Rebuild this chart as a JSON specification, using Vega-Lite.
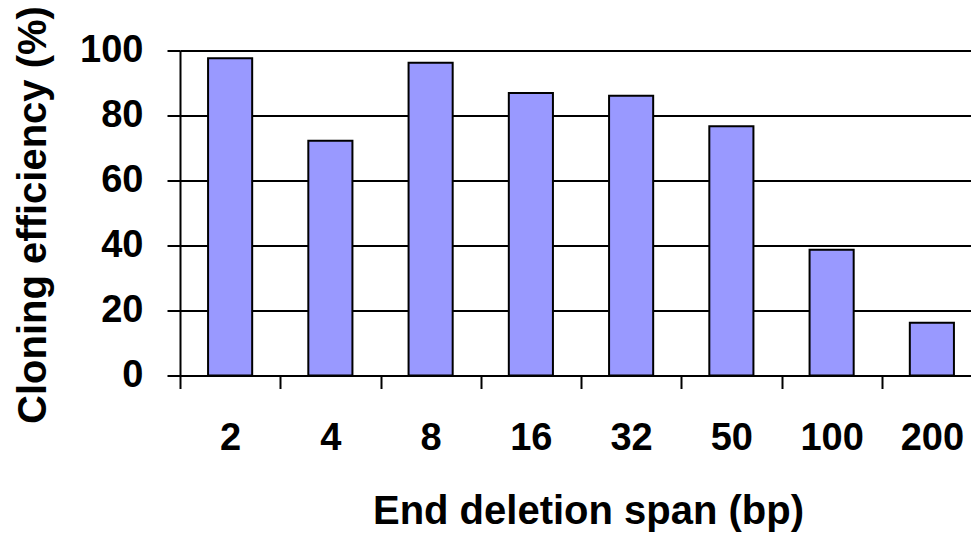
{
  "$schema": "https://vega.github.io/schema/vega-lite/v6.json",
  "autosize": {"type": "none"},
  "width": 791,
  "height": 325,
  "padding": {"left": 180, "top": 50.5, "right": 0, "bottom": 157.5},
  "background": "white",
  "data": {
    "values": [
      {"span": "2", "efficiency": 97.6},
      {"span": "4", "efficiency": 72.2},
      {"span": "8", "efficiency": 96.2},
      {"span": "16", "efficiency": 86.9},
      {"span": "32", "efficiency": 86.1},
      {"span": "50", "efficiency": 76.7},
      {"span": "100", "efficiency": 38.7},
      {"span": "200", "efficiency": 16.2}
    ]
  },
  "mark": {
    "type": "bar",
    "width": {"band": 0.44},
    "fill": "#9999ff",
    "stroke": "black",
    "strokeWidth": 2
  },
  "encoding": {
    "x": {
      "field": "span",
      "type": "ordinal",
      "sort": null,
      "scale": {"range": [0, 802], "paddingInner": 0, "paddingOuter": 0},
      "axis": {
        "title": "End deletion span (bp)",
        "labelAngle": 0,
        "tickBand": "extent",
        "grid": false,
        "domainColor": "black",
        "domainWidth": 2,
        "tickColor": "black",
        "tickWidth": 2,
        "tickSize": 13,
        "labelFont": "Liberation Sans",
        "labelFontWeight": "bold",
        "labelFontSize": 38,
        "labelColor": "black",
        "labelPadding": 31,
        "titleFont": "Liberation Sans",
        "titleFontWeight": "bold",
        "titleFontSize": 40,
        "titleColor": "black",
        "titleX": 408,
        "titleY": 147.5,
        "titleAlign": "center",
        "titleBaseline": "alphabetic"
      }
    },
    "y": {
      "field": "efficiency",
      "type": "quantitative",
      "scale": {"domain": [0, 100], "nice": false},
      "axis": {
        "title": "Cloning efficiency (%)",
        "values": [0, 20, 40, 60, 80, 100],
        "grid": true,
        "gridColor": "black",
        "gridWidth": 2,
        "gridOpacity": 1,
        "domainColor": "black",
        "domainWidth": 2,
        "tickColor": "black",
        "tickWidth": 2,
        "tickSize": 13,
        "labelFont": "Liberation Sans",
        "labelFontWeight": "bold",
        "labelFontSize": 38,
        "labelColor": "black",
        "labelPadding": 24,
        "titleFont": "Liberation Sans",
        "titleFontWeight": "bold",
        "titleFontSize": 40,
        "titleColor": "black",
        "titleAngle": -90,
        "titleX": -135,
        "titleY": 164,
        "titleAlign": "center",
        "titleBaseline": "alphabetic"
      }
    }
  },
  "config": {"view": {"stroke": null}}
}
